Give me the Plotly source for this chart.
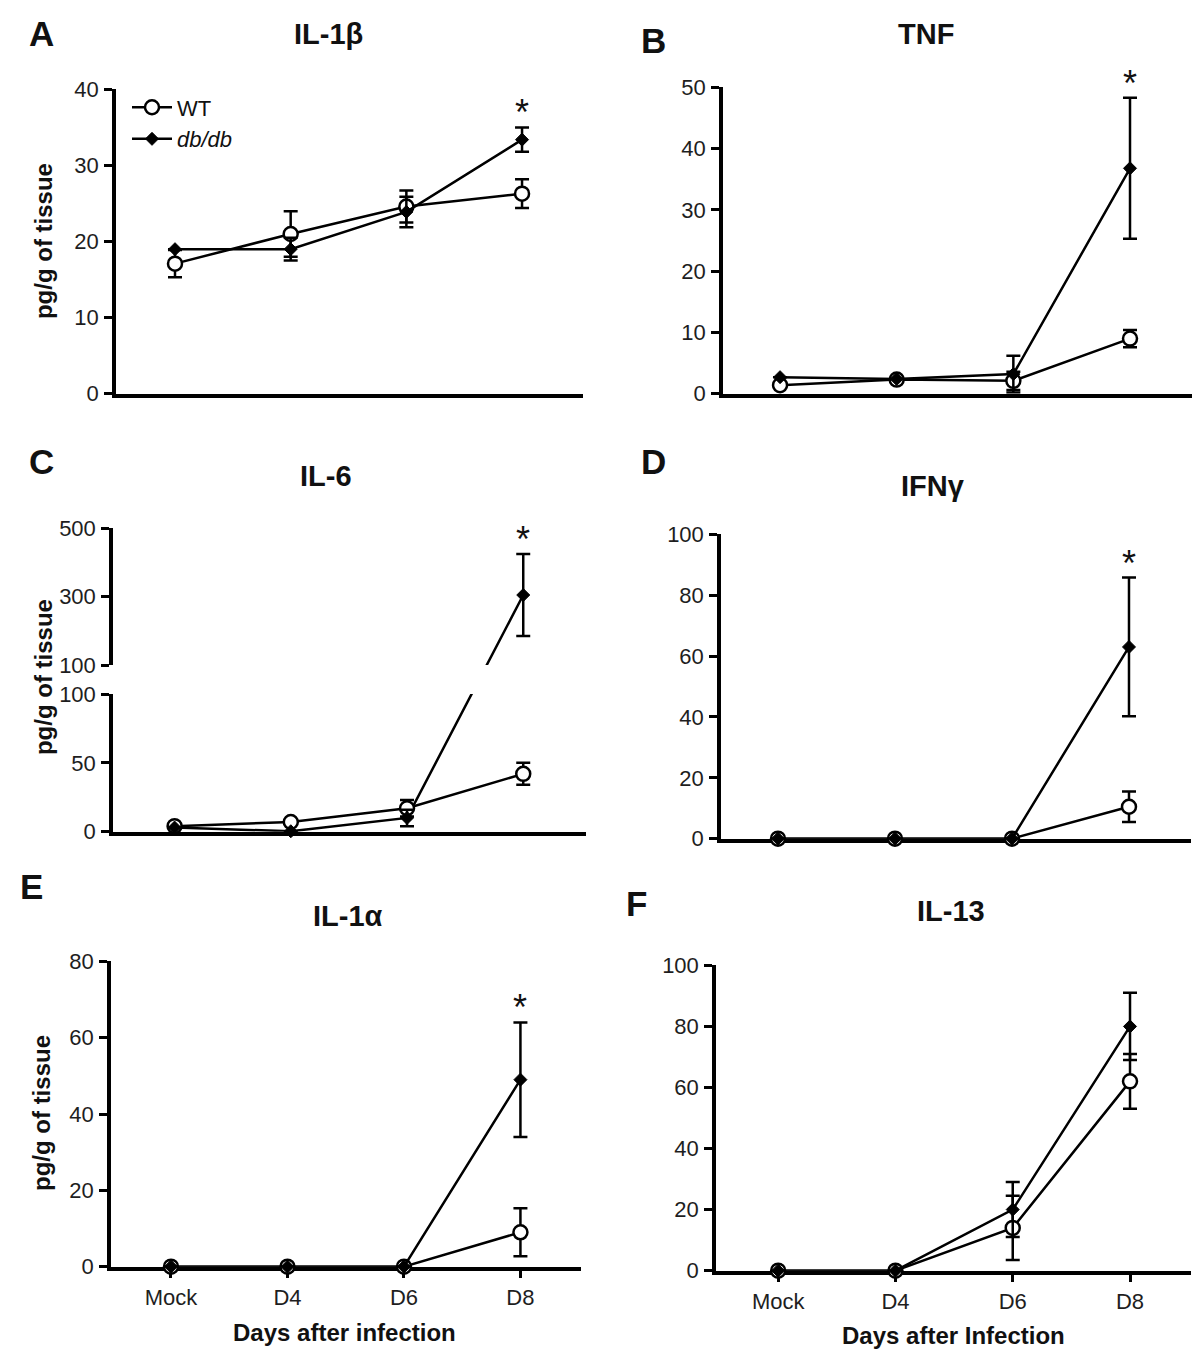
import plotly.graph_objects as go

# ---------------- data ----------------
days = ["Mock", "D4", "D6", "D8"]

il1b_wt = [17.1, 21.0, 24.6, 26.3]
il1b_wt_err = [1.8, 3.0, 2.1, 1.9]
il1b_db = [19.0, 19.0, 23.9, 33.4]
il1b_db_err = [0.0, 1.5, 2.0, 1.6]

tnf_wt = [1.4, 2.3, 2.1, 9.0]
tnf_wt_err = [0.0, 0.0, 1.5, 1.4]
tnf_db = [2.7, 2.4, 3.2, 36.8]
tnf_db_err = [0.0, 0.0, 3.0, 11.5]

il6_wt = [4.0, 7.0, 17.0, 42.0]
il6_wt_err = [0.0, 0.0, 6.0, 8.0]
il6_db = [3.0, 0.3, 10.0, 305.0]
il6_db_err = [0.0, 0.0, 6.0, 120.0]

ifng_wt = [0.0, 0.0, 0.0, 10.5]
ifng_wt_err = [0.0, 0.0, 0.0, 5.0]
ifng_db = [0.0, 0.0, 0.0, 63.0]
ifng_db_err = [0.0, 0.0, 0.0, 22.8]

il1a_wt = [0.0, 0.0, 0.0, 9.0]
il1a_wt_err = [0.0, 0.0, 0.0, 6.3]
il1a_db = [0.0, 0.0, 0.0, 49.0]
il1a_db_err = [0.0, 0.0, 0.0, 15.0]

il13_wt = [0.0, 0.0, 14.0, 62.0]
il13_wt_err = [0.0, 0.0, 10.5, 9.0]
il13_db = [0.0, 0.0, 20.0, 80.0]
il13_db_err = [0.0, 0.0, 9.0, 11.0]

titles = ["IL-1β", "TNF", "IL-6", "IFNγ", "IL-1α", "IL-13"]
letters = ["A", "B", "C", "D", "E", "F"]
ytitle = "pg/g of tissue"
xtitles = ["Days after infection", "Days after Infection"]

# ---------------- layout helpers ----------------
W, H = 1200, 1364
FONT = "Liberation Sans"
# calibration of target-pixel -> paper position (measured from earlier renders)
X_SHIFT = 5.0
Y_OFF, Y_SCALE = 19.4, 0.984


def px(x):
    return (x - X_SHIFT) / W


def py(y):
    return 1 - ((y - Y_OFF) / Y_SCALE) / H


def xd(a, b):
    return [px(a), px(b)]


def yd(top, bottom):
    return [py(bottom), py(top)]


fig = go.Figure()

WT_STYLE = dict(mode="lines+markers", line=dict(color="black", width=2.5),
                marker=dict(symbol="circle", size=14, color="white",
                            line=dict(color="black", width=2.5)))
DB_STYLE = dict(mode="lines+markers", line=dict(color="black", width=2.5),
                marker=dict(symbol="diamond", size=10, color="black",
                            line=dict(color="black", width=1)))


def err(arr):
    return dict(type="data", array=arr, visible=True, color="black",
                thickness=2.5, width=7)


def add_pair(ax, wt, wte, db, dbe, legend=False):
    xa, ya = ("x", "y") if ax == 1 else (f"x{ax}", f"y{ax}")
    fig.add_trace(go.Scatter(x=days, y=wt, error_y=err(wte), name="WT",
                             showlegend=legend, xaxis=xa, yaxis=ya, cliponaxis=False,
                             **WT_STYLE))
    fig.add_trace(go.Scatter(x=days, y=db, error_y=err(dbe), name="<i>db/db</i>",
                             showlegend=legend, xaxis=xa, yaxis=ya, cliponaxis=False,
                             **DB_STYLE))


add_pair(1, il1b_wt, il1b_wt_err, il1b_db, il1b_db_err, legend=True)
add_pair(2, tnf_wt, tnf_wt_err, tnf_db, tnf_db_err)
add_pair(5, ifng_wt, ifng_wt_err, ifng_db, ifng_db_err)
add_pair(6, il1a_wt, il1a_wt_err, il1a_db, il1a_db_err)
add_pair(7, il13_wt, il13_wt_err, il13_db, il13_db_err)

# ---- panel C : broken y axis (lower 0-100, upper 100-500) ----
C_LOW = (695, 833)   # top, bottom px
C_UP = (529, 666)
H_L = C_LOW[1] - C_LOW[0]
H_U = C_UP[1] - C_UP[0]
GAP = C_LOW[0] - C_UP[1]
LOW_MAX, UP_MIN, UP_MAX = 100.0, 100.0, 500.0


def disp(v):
    # continuous display coordinate (px above lower baseline) of the broken axis
    if v <= LOW_MAX:
        return v * H_L / LOW_MAX
    return H_L + GAP + (v - UP_MIN) * H_U / (UP_MAX - UP_MIN)


def to_low(v):
    return disp(v) * LOW_MAX / H_L


def to_up(v):
    return UP_MIN + (disp(v) - H_L - GAP) * (UP_MAX - UP_MIN) / H_U


for series in (il6_wt, il6_db):
    for ax, fn in ((3, to_low), (4, to_up)):
        fig.add_trace(go.Scatter(x=days, y=[fn(v) for v in series], mode="lines",
                                 line=dict(color="black", width=2.5), showlegend=False,
                                 xaxis=f"x{ax}", yaxis=f"y{ax}", hoverinfo="skip"))

for series, errs, style in ((il6_wt, il6_wt_err, WT_STYLE), (il6_db, il6_db_err, DB_STYLE)):
    lo_x = [d for d, v in zip(days, series) if v <= LOW_MAX]
    lo_y = [v for v in series if v <= LOW_MAX]
    lo_e = [e for v, e in zip(series, errs) if v <= LOW_MAX]
    hi_x = [d for d, v in zip(days, series) if v > LOW_MAX]
    hi_y = [v for v in series if v > LOW_MAX]
    hi_e = [e for v, e in zip(series, errs) if v > LOW_MAX]
    st = dict(style)
    st["mode"] = "markers"
    st.pop("line")
    fig.add_trace(go.Scatter(x=lo_x, y=lo_y, error_y=err(lo_e), showlegend=False,
                             xaxis="x3", yaxis="y3", cliponaxis=False, **st))
    if hi_x:
        fig.add_trace(go.Scatter(x=hi_x, y=hi_y, error_y=err(hi_e), showlegend=False,
                                 xaxis="x4", yaxis="y4", cliponaxis=False, **st))

# ---------------- axes ----------------
TICKFONT = dict(family=FONT, size=22, color="#1e1e1e")


def yaxis(dom, rng, dtick=None, tickvals=None, anchor="x"):
    d = dict(domain=dom, range=rng, showline=True, linecolor="black", linewidth=3.5,
             ticks="outside", ticklen=8, tickwidth=3, tickcolor="black",
             tickfont=TICKFONT, showgrid=False, zeroline=False, layer="below traces",
             anchor=anchor, ticklabelstandoff=1)
    if dtick is not None:
        d.update(tick0=0, dtick=dtick)
    if tickvals is not None:
        d.update(tickmode="array", tickvals=tickvals)
    return d


def xaxis(dom, rng, anchor, labels=False, line=True):
    d = dict(domain=dom, range=rng, type="category", categoryorder="array",
             categoryarray=days, showline=line, linecolor="black", linewidth=3.5,
             showgrid=False, zeroline=False, layer="below traces", anchor=anchor,
             showticklabels=labels, ticks="outside" if labels else "",
             ticklen=8, tickwidth=3, tickcolor="black", tickfont=TICKFONT)
    return d


fig.update_layout(
    xaxis=xaxis(xd(113, 580), [-0.51, 3.527], "y"),
    yaxis=yaxis(yd(89, 394), [0, 40], dtick=10, anchor="x"),
    xaxis2=xaxis(xd(720, 1190), [-0.489, 3.54], "y2"),
    yaxis2=yaxis(yd(87, 394), [0, 50], dtick=10, anchor="x2"),
    xaxis3=xaxis(xd(110, 583), [-0.53, 3.54], "y3"),
    yaxis3=yaxis(yd(*C_LOW), [0, LOW_MAX], dtick=50, anchor="x3"),
    xaxis4=xaxis(xd(110, 583), [-0.53, 3.54], "y4", line=False),
    yaxis4=yaxis(yd(*C_UP), [UP_MIN, UP_MAX], tickvals=[100, 300, 500], anchor="x4"),
    xaxis5=xaxis(xd(718, 1188), [-0.487, 3.53], "y5"),
    yaxis5=yaxis(yd(535, 840), [0, 100], dtick=20, anchor="x5"),
    xaxis6=xaxis(xd(108, 578), [-0.515, 3.52], "y6", labels=True),
    yaxis6=yaxis(yd(963, 1269), [0, 80], dtick=20, anchor="x6"),
    xaxis7=xaxis(xd(713, 1188), [-0.53, 3.52], "y7", labels=True),
    yaxis7=yaxis(yd(967, 1273), [0, 100], dtick=20, anchor="x7"),
)

# ---------------- annotations ----------------
ann = []
title_pos = [(325, 33), (923, 33), (323, 476), (930, 487), (345, 918), (948, 913)]
letter_pos = [(38, 33), (650, 40), (38, 462), (650, 462), (28, 888), (633, 905)]
for t, (x, y) in zip(titles, title_pos):
    ann.append(dict(text=f"<b>{t}</b>", x=px(x), y=py(y), xref="paper", yref="paper",
                    xanchor="center", yanchor="middle", showarrow=False,
                    font=dict(family=FONT, size=29, color="#111")))
for t, (x, y) in zip(letters, letter_pos):
    ann.append(dict(text=f"<b>{t}</b>", x=px(x), y=py(y), xref="paper", yref="paper",
                    xanchor="center", yanchor="middle", showarrow=False,
                    font=dict(family=FONT, size=35, color="#111")))
for (x, y) in [(40, 241), (40, 678), (38, 1115)]:
    ann.append(dict(text=f"<b>{ytitle}</b>", x=px(x), y=py(y), xref="paper",
                    yref="paper", xanchor="center", yanchor="middle", textangle=-90,
                    showarrow=False, font=dict(family=FONT, size=24, color="#111")))
for t, (x, y) in zip(xtitles, [(341, 1335), (950, 1338)]):
    ann.append(dict(text=f"<b>{t}</b>", x=px(x), y=py(y), xref="paper", yref="paper",
                    xanchor="center", yanchor="middle", showarrow=False,
                    font=dict(family=FONT, size=24, color="#111")))

# significance asterisks above the db/db D8 error bar
for ax, vals, errs in [("", il1b_db, il1b_db_err), ("2", tnf_db, tnf_db_err),
                       ("4", il6_db, il6_db_err), ("5", ifng_db, ifng_db_err),
                       ("6", il1a_db, il1a_db_err)]:
    ann.append(dict(text="*", x="D8", y=vals[3] + errs[3], xref=f"x{ax}", yref=f"y{ax}",
                    xanchor="center", yanchor="bottom", yshift=-8, showarrow=False,
                    font=dict(family=FONT, size=36, color="#111")))

fig.update_layout(
    annotations=ann,
    width=W, height=H,
    margin=dict(l=0, r=0, t=0, b=0),
    paper_bgcolor="white", plot_bgcolor="white",
    showlegend=True,
    legend=dict(x=px(124), y=py(86), xanchor="left", yanchor="top",
                bgcolor="rgba(0,0,0,0)", font=dict(family=FONT, size=22, color="#111"),
                tracegroupgap=0, traceorder="normal", itemwidth=40),
    font=dict(family=FONT),
)

fig.write_html("out.html")
